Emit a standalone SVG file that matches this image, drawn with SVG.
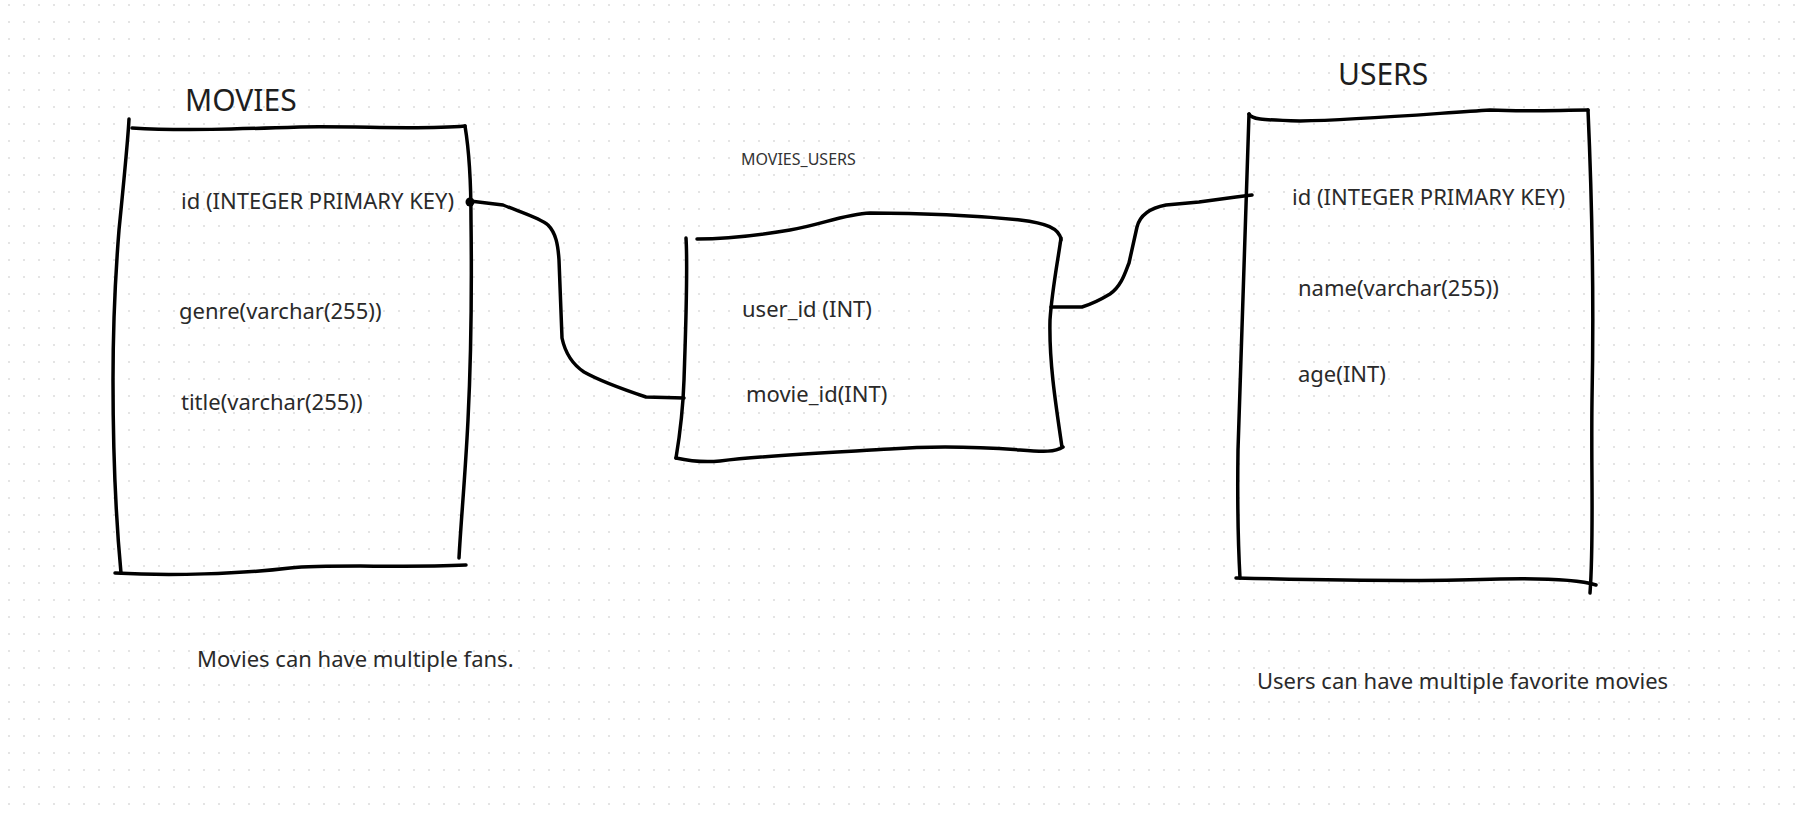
<svg xmlns="http://www.w3.org/2000/svg" width="1802" height="820" viewBox="0 0 1802 820">
  <defs>
    <pattern id="grid" x="0" y="0" width="15" height="17" patternUnits="userSpaceOnUse">
      <rect x="8" y="4" width="2" height="2" fill="#e4e4e4"/>
    </pattern>
  </defs>
  <style>
    .ink { fill: none; stroke: #000; stroke-width: 3.5; stroke-linecap: round; stroke-linejoin: round; }
    .title { font-family: "Noto Sans", "Open Sans", sans-serif; font-size: 30px; fill: #1e1e1e; }
    .field { font-family: "Noto Sans", "Open Sans", sans-serif; font-size: 22px; fill: #2a2a2a; }
    .small { font-family: "Noto Sans", "Open Sans", sans-serif; font-size: 16px; fill: #333; }
  </style>
  <rect width="1802" height="820" fill="#fff"/>
  <rect width="1802" height="820" fill="url(#grid)"/>

  <g id="connectors">
    <path class="ink" d="M470,201 L503,205 C520,212 540,218 548,225 C556,233 558,245 559,260 L562,338 C565,352 572,364 584,372 C600,381 625,390 646,397 L684,398"/>
    <circle cx="470" cy="202" r="4.5" fill="#000"/>
    <path class="ink" d="M1051,307 L1082,307 C1092,304 1100,300 1110,294 C1122,286 1126,270 1129,263 L1137,227 C1140,215 1150,208 1166,205 L1199,202 L1236,197 L1252,195"/>
  </g>

  <g id="movies">
    <text class="title" x="185" y="111">MOVIES</text>
    <path class="ink" d="M129,119 C128,140 124,180 119,230 C115,280 113,320 113,380 C113,450 116,520 121,573"/>
    <path class="ink" d="M132,128 C180,131 240,129 300,127 C360,126 420,130 465,126"/>
    <path class="ink" d="M465,126 C469,150 471,180 471,220 C472,300 471,360 468,420 C465,480 461,520 459,558"/>
    <path class="ink" d="M115,573 C170,576 240,574 290,568 C330,564 400,568 466,565"/>
    <text class="field" x="181" y="209">id (INTEGER PRIMARY KEY)</text>
    <text class="field" x="179" y="319">genre(varchar(255))</text>
    <text class="field" x="181" y="410">title(varchar(255))</text>
  </g>

  <g id="movies_users">
    <text class="small" x="741" y="165">MOVIES_USERS</text>
    <path class="ink" d="M686,238 C688,270 686,320 684,380 C683,410 679,440 676,458"/>
    <path class="ink" d="M697,239 C730,239 760,235 790,230 C820,225 845,214 870,213 C920,213 980,216 1020,220 C1045,223 1060,228 1061,240"/>
    <path class="ink" d="M1061,238 C1058,260 1052,290 1050,320 C1049,360 1055,400 1062,447"/>
    <path class="ink" d="M1063,447 C1055,452 1045,452 1020,450 C980,447 930,446 890,449 C840,452 770,455 720,461 C700,463 685,460 676,458"/>
    <text class="field" x="742" y="317">user_id (INT)</text>
    <text class="field" x="746" y="402">movie_id(INT)</text>
  </g>

  <g id="users">
    <text class="title" x="1338" y="85">USERS</text>
    <path class="ink" d="M1249,114 C1247,200 1242,320 1238,450 C1237,520 1239,560 1240,578"/>
    <path class="ink" d="M1249,114 C1251,119 1260,120 1300,121 C1360,120 1440,113 1490,110 C1530,112 1560,110 1588,110"/>
    <path class="ink" d="M1588,110 C1592,200 1594,300 1592,400 C1591,480 1594,540 1590,593"/>
    <path class="ink" d="M1236,578 C1320,580 1420,582 1500,579 C1550,578 1580,580 1596,585"/>
    <text class="field" x="1292" y="205">id (INTEGER PRIMARY KEY)</text>
    <text class="field" x="1298" y="296">name(varchar(255))</text>
    <text class="field" x="1298" y="382">age(INT)</text>
  </g>

  <g id="notes">
    <text class="field" x="197" y="667">Movies can have multiple fans.</text>
    <text class="field" x="1257" y="689">Users can have multiple favorite movies</text>
  </g>
</svg>
